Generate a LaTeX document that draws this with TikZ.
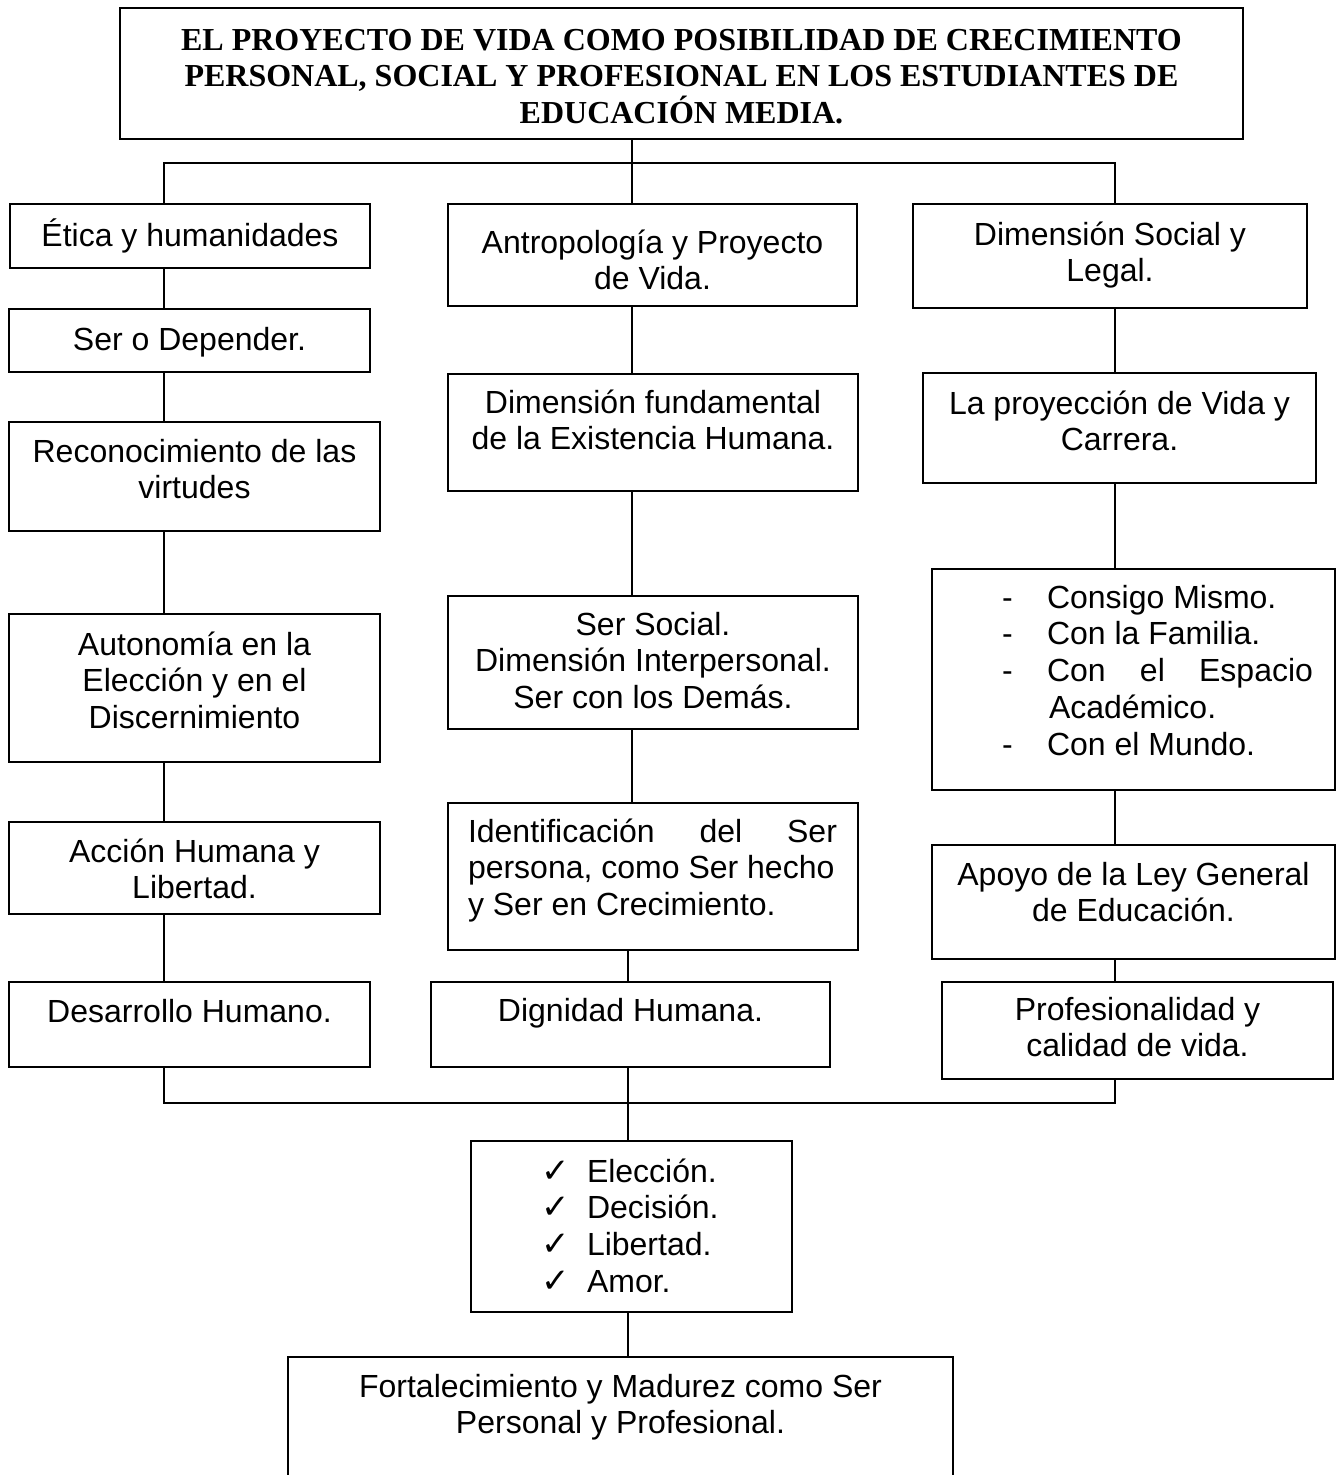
\documentclass[tikz,border=0pt]{standalone}
\usepackage{fontspec}
\setmainfont{Liberation Sans}
\newfontfamily\titlefont{Liberation Serif}
\newfontfamily\checkfont{DejaVu Sans}
\usepackage{tikz}

% box text: [first baseline]{width}{height}{lines}
\newcommand{\cell}[4][40]{\parbox[c][#3pt][t]{#2pt}{\centering\rule{0pt}{#1pt}#4}}
\newcommand{\chk}[1]{\makebox[321pt][l]{\hspace*{70pt}\makebox[46pt][l]{\checkfont\fontsize{34}{34}\selectfont ✓}#1}}
\newcommand{\guion}[2][l]{\makebox[403pt][l]{\hspace*{70pt}\makebox[45pt][l]{-}\makebox[266pt][#1]{#2}}}

\begin{document}
\begin{tikzpicture}[x=1pt,y=-1pt,line width=1.6pt,font=\fontsize{32}{36.8}\selectfont]
      \tikzstyle{box}=[draw,line width=2pt,inner sep=0pt,outer sep=0pt,anchor=north west]

      \useasboundingbox (0,0) rectangle (1336,1475);
      \clip (0,0) rectangle (1336,1475);

      \node[box] (T)       at (120,8)   {\cell[42]{1123}{131}{\titlefont\bfseries EL PROYECTO DE VIDA COMO POSIBILIDAD DE CRECIMIENTO\\ PERSONAL, SOCIAL Y PROFESIONAL EN LOS ESTUDIANTES DE\\ EDUCACIÓN MEDIA.}};

      % left column
      \node[box] (etica)   at (10,204)  {\cell[42]{360}{64}{Ética y humanidades}};
      \node[box] (ser)     at (9,309)   {\cell[41]{361}{63}{Ser o Depender.}};
      \node[box] (recon)   at (9,422)   {\cell{371}{109}{Reconocimiento de las\\ virtudes}};
      \node[box] (auton)   at (9,614)   {\cell[41]{371}{148}{Autonomía en la\\ Elección y en el\\ Discernimiento}};
      \node[box] (accion)  at (9,822)   {\cell{371}{92}{Acción Humana y\\ Libertad.}};
      \node[box] (desarr)  at (9,982)   {\cell{361}{85}{Desarrollo Humano.}};

      % middle column
      \node[box] (antrop)  at (448,204) {\cell[49]{409}{102}{Antropología y Proyecto\\ de Vida.}};
      \node[box] (dimfund) at (448,374) {\cell[39]{410}{117}{Dimensión fundamental\\ de la Existencia Humana.}};
      \node[box] (sersoc)  at (448,596) {\cell[39]{410}{133}{Ser Social.\\ Dimensión Interpersonal.\\ Ser con los Demás.}};
      \node[box] (ident)   at (448,803) {\cell[39]{410}{147}{%
            \makebox[410pt][l]{\hspace*{20pt}\makebox[369pt][s]{Identificación del Ser}}\\
            \makebox[410pt][l]{\hspace*{20pt}persona, como Ser hecho}\\
            \makebox[410pt][l]{\hspace*{20pt}y Ser en Crecimiento.}}};
      \node[box] (dign)    at (431,982) {\cell[39]{399}{85}{Dignidad Humana.}};
      \node[box] (check)   at (471,1141) {\cell[41]{321}{171}{\chk{Elección.}\\ \chk{Decisión.}\\ \chk{Libertad.}\\ \chk{Amor.}}};
      \node[box] (fort)    at (288,1357) {\cell{665}{140}{Fortalecimiento y Madurez como Ser\\ Personal y Profesional.}};

      % right column
      \node[box] (dimsoc)  at (913,204) {\cell[41]{394}{104}{Dimensión Social y\\ Legal.}};
      \node[box] (proy)    at (923,373) {\cell[41]{393}{110}{La proyección de Vida y\\ Carrera.}};
      \node[box] (lista)   at (932,569) {\cell[39]{403}{221}{\guion{Consigo Mismo.}\\ \guion{Con la Familia.}\\ \guion[s]{Con el Espacio}\\ \makebox[403pt][l]{\hspace*{117pt}Académico.}\\ \guion{Con el Mundo.}}};
      \node[box] (apoyo)   at (932,845) {\cell{403}{114}{Apoyo de la Ley General\\ de Educación.}};
      \node[box] (profes)  at (942,982) {\cell[38]{391}{97}{Profesionalidad y\\ calidad de vida.}};

      \coordinate (lx) at (164,0);
      \coordinate (mx) at (632,0);
      \coordinate (mb) at (628,0);
      \coordinate (rx) at (1115,0);
      \coordinate (hubT) at (632,163);
      \coordinate (hubB) at (628,1103);

      \draw (etica.north -| lx) |- (hubT) -| (dimsoc.north -| rx);
      \draw (desarr.south -| lx) |- (hubB) -| (profes.south -| rx);

      \path[draw]
	(T.south -| mx)       edge (antrop.north -| mx)
	(etica.south -| lx)   edge (ser.north -| lx)
	(ser.south -| lx)     edge (recon.north -| lx)
	(recon.south -| lx)   edge (auton.north -| lx)
	(auton.south -| lx)   edge (accion.north -| lx)
	(accion.south -| lx)  edge (desarr.north -| lx)
	(antrop.south -| mx)  edge (dimfund.north -| mx)
	(dimfund.south -| mx) edge (sersoc.north -| mx)
	(sersoc.south -| mx)  edge (ident.north -| mx)
	(ident.south -| mb)   edge (dign.north -| mb)
	(dign.south -| mb)    edge (check.north -| mb)
	(check.south -| mb)   edge (fort.north -| mb)
	(dimsoc.south -| rx)  edge (proy.north -| rx)
	(proy.south -| rx)    edge (lista.north -| rx)
	(lista.south -| rx)   edge (apoyo.north -| rx)
	(apoyo.south -| rx)   edge (profes.north -| rx);

  \end{tikzpicture}
\end{document}
